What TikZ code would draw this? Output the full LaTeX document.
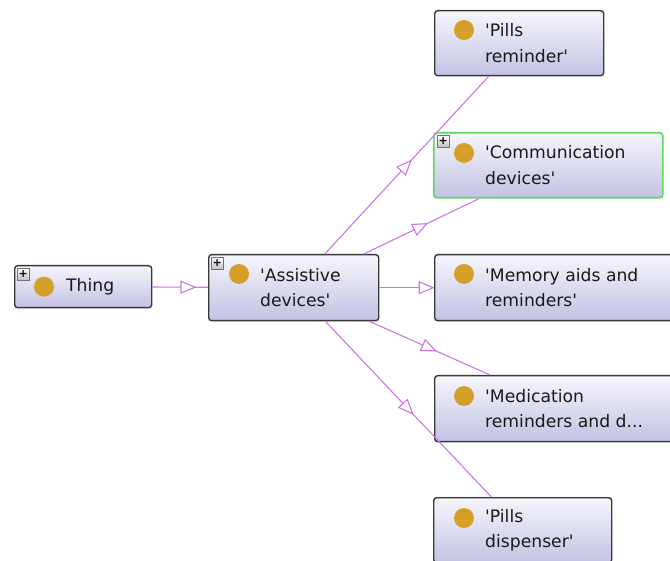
\documentclass[tikz,border=0pt]{standalone}
\usepackage{fontspec}
\setmainfont{DejaVu Sans}
\usetikzlibrary{arrows.meta}
\usetikzlibrary{decorations.markings}
\usetikzlibrary{positioning}

\definecolor{isacol}{RGB}{202,118,232}
\definecolor{boxtop}{RGB}{246,246,252}
\definecolor{boxbot}{RGB}{194,194,228}
\definecolor{dotcol}{RGB}{212,160,42}
\definecolor{selcol}{RGB}{92,218,92}
\newcommand{\sq}{\textquotesingle}

\tikzset{
  cls/.style={draw=black!78, line width=1.4pt, rounded corners=3pt, top color=boxtop, bottom color=boxbot, anchor=north west, inner sep=0pt},
  sel/.style={draw=selcol, line width=1.6pt},
  dot/.style={circle, fill=dotcol, minimum size=20pt, inner sep=0pt},
  lbl/.style={anchor=west, align=left, inner sep=0pt, text=black!90, font=\fontsize{17.2}{25.5}\selectfont},
  plusbox/.style={draw=black!55, line width=0.6pt, top color=white, bottom color=black!25, minimum size=12pt, inner sep=0pt, anchor=north west, font=\fontsize{11}{11}\selectfont\bfseries},
  isa/.style={draw=isacol, line width=1.1pt},
  isamid/.style={postaction={decorate}, decoration={markings, mark=at position 0.5 with {\arrow[xshift=8pt]{Triangle[length=16pt, width=13pt, color=isacol, fill=white, line width=1.1pt]}}}}
}

\begin{document}
\begin{tikzpicture}[x=1pt,y=-1pt]
\useasboundingbox (0,0) rectangle (670,561);
\clip (0,0) rectangle (670,561);
% class boxes
\node[cls, minimum width=137pt, minimum height=42pt] (thing) at (14,265) {};
\node[cls, minimum width=170pt, minimum height=66pt] (assist) at (208,254) {};
\node[cls, minimum width=169pt, minimum height=65pt] (pillsrem) at (434,10) {};
\node[cls, sel, minimum width=229pt, minimum height=65pt] (comm) at (433,132) {};
\node[cls, minimum width=250pt, minimum height=66pt] (memory) at (434,254) {};
\node[cls, minimum width=262pt, minimum height=66pt] (medic) at (434,375) {};
\node[cls, minimum width=178pt, minimum height=65pt] (pillsdisp) at (433,497) {};
% expand icons
\node[plusbox] (thing-plus) at ([xshift=3pt,yshift=-3pt]thing.north west) {+};
\node[plusbox] (assist-plus) at ([xshift=3pt,yshift=-3pt]assist.north west) {+};
\node[plusbox] (comm-plus) at ([xshift=4pt,yshift=-3pt]comm.north west) {+};
% class dots
\node[dot] (thing-dot) at ([xshift=30pt]thing.west) {};
\node[dot] (assist-dot) at ([xshift=31pt,yshift=-20pt]assist.north west) {};
\node[dot] (pillsrem-dot) at ([xshift=30pt,yshift=-20pt]pillsrem.north west) {};
\node[dot] (comm-dot) at ([xshift=31pt,yshift=-21pt]comm.north west) {};
\node[dot] (memory-dot) at ([xshift=30pt,yshift=-20pt]memory.north west) {};
\node[dot] (medic-dot) at ([xshift=30pt,yshift=-21pt]medic.north west) {};
\node[dot] (pillsdisp-dot) at ([xshift=31pt,yshift=-21pt]pillsdisp.north west) {};
% labels
\node[lbl] (thing-txt) at ([xshift=52pt]thing.west) {Thing};
\node[lbl] (assist-txt) at ([xshift=52pt]assist.west) {\sq Assistive\\devices\sq};
\node[lbl] (pillsrem-txt) at ([xshift=51pt]pillsrem.west) {\sq Pills\\reminder\sq};
\node[lbl] (comm-txt) at ([xshift=52pt]comm.west) {\sq Communication\\devices\sq};
\node[lbl] (memory-txt) at ([xshift=51pt]memory.west) {\sq Memory aids and\\reminders\sq};
\node[lbl] (medic-txt) at ([xshift=51pt]medic.west) {\sq Medication\\reminders and d...};
\node[lbl] (pillsdisp-txt) at ([xshift=52pt]pillsdisp.west) {\sq Pills\\dispenser\sq};
% subclass edges
\foreach \a/\b in {thing/assist, assist/pillsrem, assist/comm, assist/memory, assist/medic, assist/pillsdisp} {
  \draw[isa] (\a) -- (\b);
  \path[isamid] (\a.center) -- (\b.center);
}
\end{tikzpicture}
\end{document}
